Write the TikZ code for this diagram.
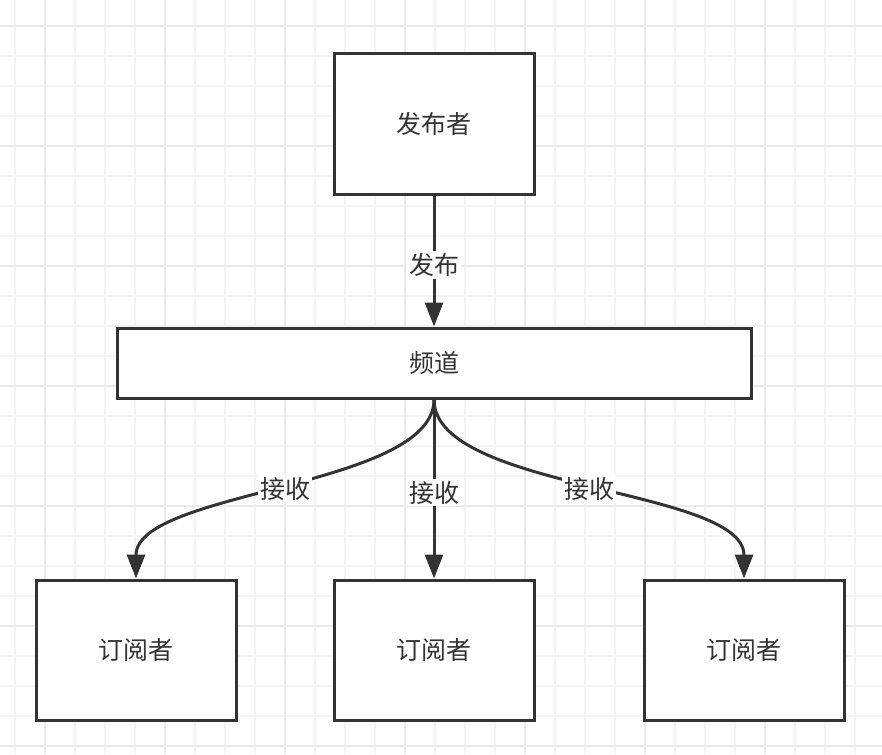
\documentclass[tikz,border=0pt]{standalone}
\usepackage{fontspec}
\setmainfont{Noto Sans CJK SC}
\usetikzlibrary{arrows.meta}

\definecolor{inkgray}{HTML}{333333}
\definecolor{gridminor}{HTML}{F4F4F4}
\definecolor{gridmajor}{HTML}{EAEAEA}

\tikzset{
  box/.style={shape=rectangle, draw=inkgray, line width=3pt, minimum width=200pt, minimum height=140pt, text=inkgray, font=\fontsize{25}{29}\selectfont},
  flow/.style={draw=inkgray, line width=3pt, -{Triangle[length=24pt,width=18pt]}},
  tag/.style={fill=white, text=inkgray, inner sep=2pt, font=\fontsize{25}{29}\selectfont}
}

\begin{document}
\begin{tikzpicture}[x=1pt,y=-1pt]
\useasboundingbox (0,0) rectangle (882,754);
\fill[white] (0,0) rectangle (882,754);
%%%%%%%%%%%%%%%%%%%%%%%%%%%%%%%%%%%%%%%%%%% GRID
\foreach \gx in {15,45,...,875} \draw[gridminor, line width=2pt] (\gx,0) -- (\gx,754);
\foreach \gy in {26,56,...,746} \draw[gridminor, line width=2pt] (0,\gy) -- (882,\gy);
\foreach \gx in {45,165,...,885} \draw[gridmajor, line width=2pt] (\gx,0) -- (\gx,754);
\foreach \gy in {26,146,...,746} \draw[gridmajor, line width=2pt] (0,\gy) -- (882,\gy);

%%%%%%%%%%%%%%%%%%%%%%%%%%%%%%%%%%%%%%%%%%% elements
\node[box, fill=white](pub)at(434,124){发布者};
\node[box, fill=white, minimum width=634pt, minimum height=70pt](chan)at(434,363){频道};
\node[box, fill=white](subA)at(136,650){订阅者};
\node[box, fill=white](subB)at(434,650){订阅者};
\node[box, fill=white](subC)at(744,650){订阅者};

%%%%% arrows
\draw[flow] (pub) -- node[tag, pos=0.53]{发布} (chan);
\draw[flow] (chan.south) -- node[tag, pos=0.52]{接收} (subB.north);
\draw[flow] (chan.south) to[out=-90, in=90, looseness=0.65] node[tag, pos=0.5]{接收} (subA.north);
\draw[flow] (chan.south) to[out=-90, in=90, looseness=0.65] node[tag, pos=0.5]{接收} (subC.north);
\end{tikzpicture}
\end{document}
